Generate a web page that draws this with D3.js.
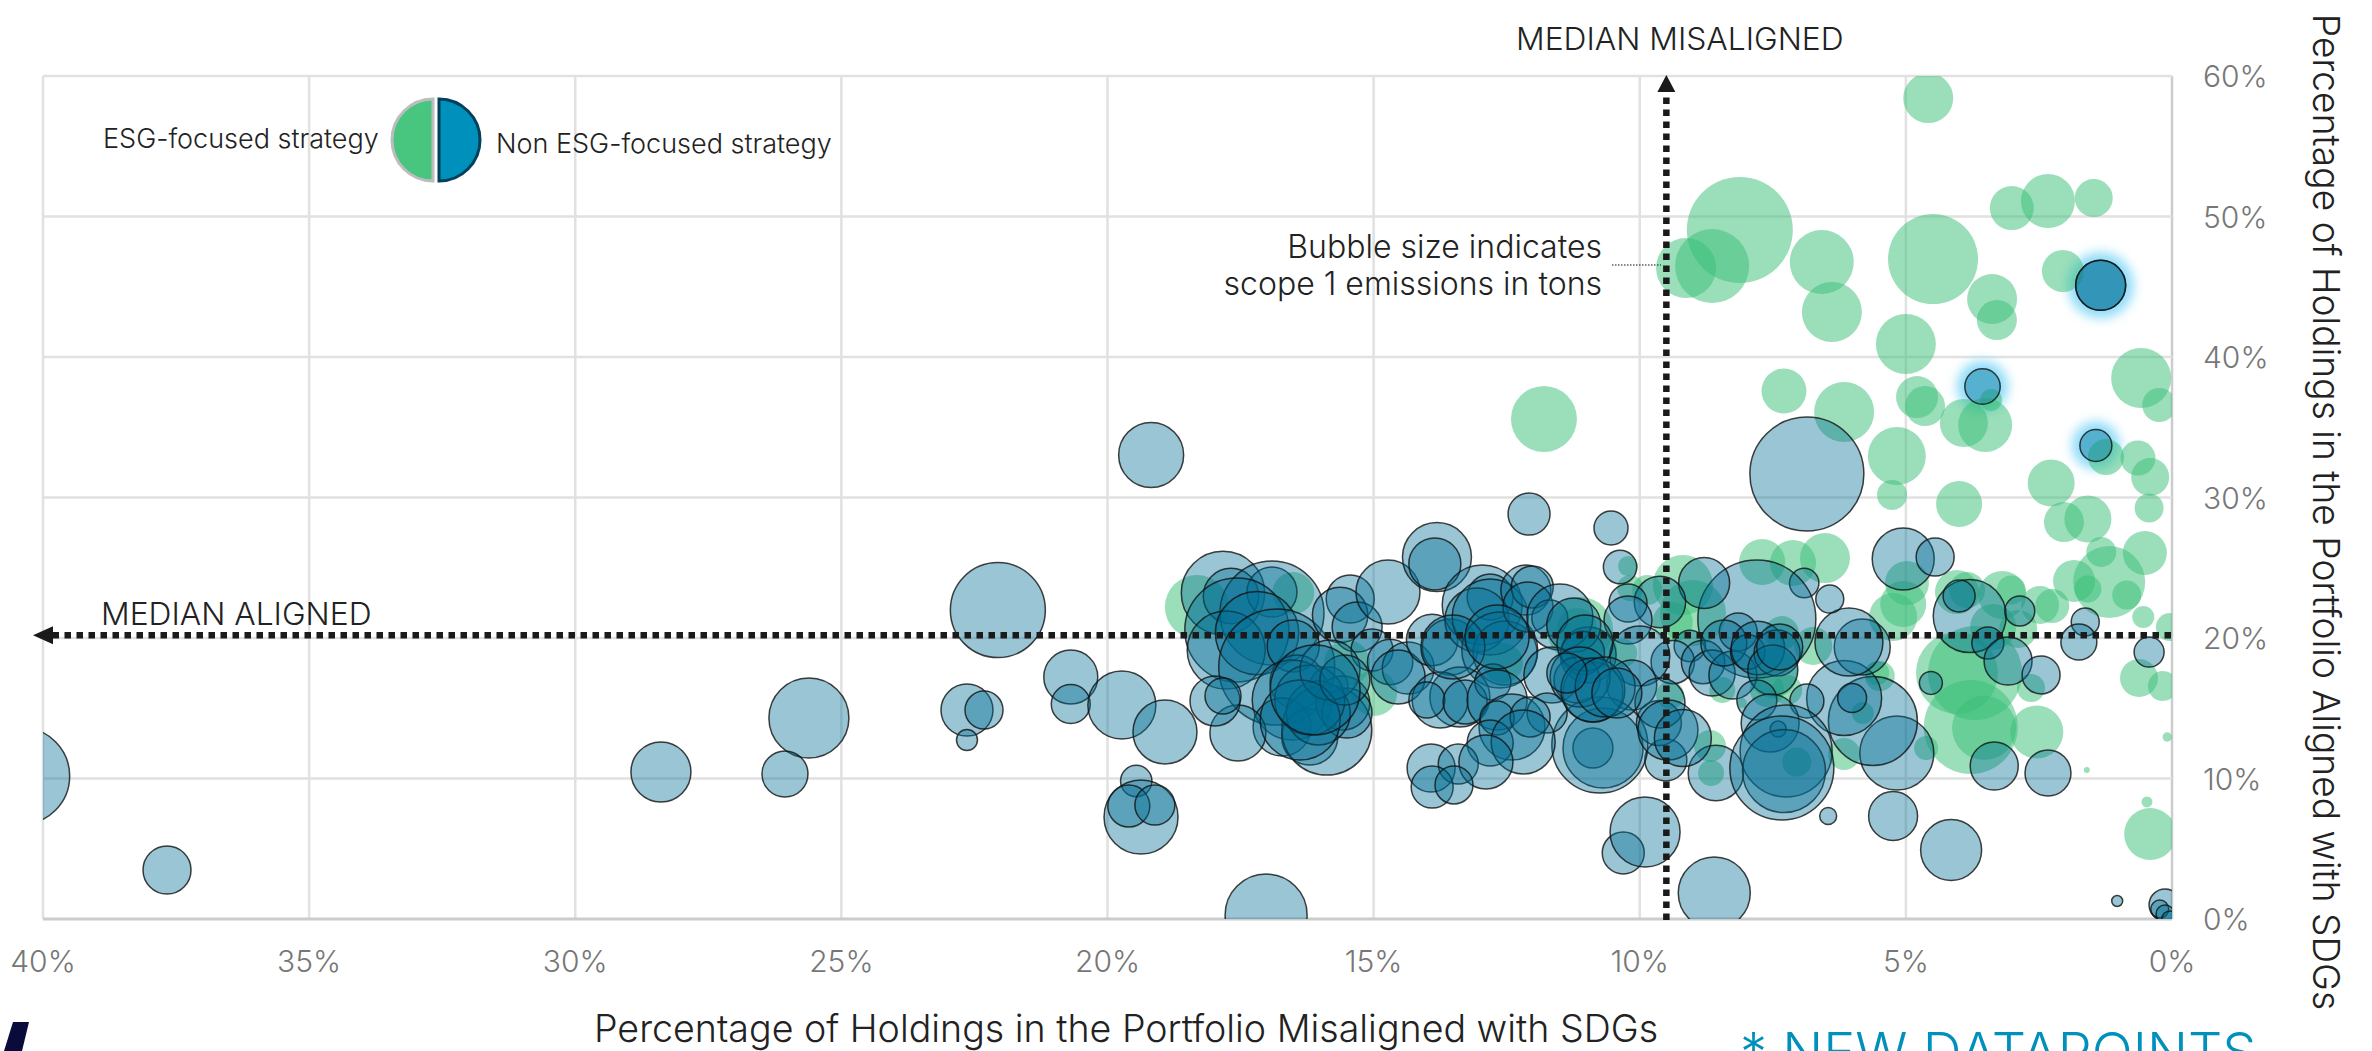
<!DOCTYPE html>
<html><head><meta charset="utf-8">
<script src="https://cdn.jsdelivr.net/npm/d3@7"></script>
<style>
html,body{margin:0;padding:0;background:#fff;overflow:hidden}
text{font-family:Inter,"Noto Sans",sans-serif;font-weight:300}
</style></head><body>
<svg id="c" width="2372" height="1051"></svg>
<script>
// Rows: [% misaligned, % aligned, scope 1 emissions (relative units)]
const esgPoints = [
[4.58,58.43,625],[8.12,49.04,2809],[9.13,46.33,900],[8.64,46.47,1369],[6.58,46.76,1024],[4.49,46.97,2025],
[6.39,43.2,900],[3.01,50.6,484],[2.33,51.1,729],[1.47,51.31,361],[2.05,46.12,441],[3.38,44.13,625],
[3.29,42.63,400],[5.0,40.92,900],[0.58,38.5,900],[0.24,36.58,289],[7.29,37.58,506],[6.16,36.08,900],
[4.79,37.15,441],[4.64,36.51,400],[3.91,35.3,576],[3.51,35.16,729],[3.40,36.94,121],[5.17,32.95,841],
[1.24,32.88,324],[0.64,32.81,306],[0.41,31.46,361],[2.27,31.03,552],[4.0,29.54,529],[5.26,30.18,225],
[11.8,35.59,1089],[2.03,28.25,400],[1.58,28.47,552],[0.43,29.25,210],[0.51,26.05,484],[1.33,26.12,225],
[1.18,23.98,1296],[1.84,24.06,441],[1.58,23.49,182],[0.85,23.06,210],[0.54,21.49,121],[0.04,20.78,196],
[2.48,22.35,361],[2.25,22.28,289],[3.19,23.06,576],[3.02,23.41,210],[4.04,23.27,484],[3.85,23.41,324],
[4.98,23.91,484],[5.05,22.42,529],[5.24,21.49,576],[3.36,20.78,529],[2.89,20.64,361],[4.04,17.51,1681],
[3.70,17.51,2209],[3.78,13.66,2209],[3.53,13.59,1024],[2.54,13.31,702],[2.65,16.44,196],[4.62,12.17,144],
[5.49,17.29,225],[5.81,14.66,121],[0.62,17.15,361],[0.17,16.58,225],[0.09,12.95,22],[1.6,10.6,9],
[0.47,8.33,30],[0.41,6.05,676],[9.19,23.77,900],[7.70,25.41,529],[7.12,25.34,529],[6.52,25.69,625],
[9.0,21.78,1089],[9.86,23.41,225],[10.18,23.56,169],[9.38,21.14,400],[6.74,19.43,361],[7.33,20.35,289],
[7.23,16.3,225],[7.5,17.51,625],[8.45,16.3,169],[8.68,12.31,256],[8.66,10.39,169],[7.05,11.17,210],
[6.16,11.74,256],[5.54,17.51,144],[9.43,15.94,196],[8.08,15.37,25],[7.61,16.3,289],[11.12,20.57,1089],
[10.31,18.93,196],[10.22,25.12,100],[18.32,22.21,1024],[16.51,23.2,441],[14.99,16.08,529],[15.5,18.22,529],
[12.57,18.22,400],[11.18,20.71,400],[10.8,19.14,400]
];
const nonEsgPoints = [
[22.06,21.99,2256],[25.61,14.31,1600],[26.06,10.32,529],[22.64,14.87,676],[22.32,14.87,361],[22.64,12.74,110],
[20.69,17.22,729],[20.69,15.3,380],[19.73,15.23,1156],[18.92,13.31,1024],[19.46,9.82,246],[19.18,33.02,1056],
[40.41,10.18,2352],[37.67,3.49,576],[28.39,10.46,900],[19.37,7.26,1369],[19.6,8.04,441],[19.11,8.11,400],
[17.02,0.28,1681],[8.6,1.85,1296],[10.31,4.7,441],[9.9,6.19,1225],[8.57,10.39,767],[9.51,11.32,441],
[6.46,7.33,72],[5.24,7.33,600],[4.15,4.91,930],[1.03,1.28,30],[0.13,1.0,256],[0.23,0.71,81],[0.13,0.36,81],[0.04,0,64],
[3.34,10.89,576],[2.33,10.39,529],[5.17,11.81,1369],[5.62,14.09,1980],[6.16,15.73,1406],[6.01,15.73,210],
[5.05,25.62,961],[4.45,25.76,361],[3.8,21.56,1332],[4.0,22.99,256],[2.86,21.92,225],[3.46,19.64,256],
[3.08,18.36,576],[2.46,17.37,361],[4.53,16.8,132],[1.63,21.14,196],[1.75,19.71,324],[0.43,19.0,225],
[5.82,19.36,784],[6.07,19.71,1156],[6.43,22.77,196],[6.91,23.91,216],[7.8,21.35,3481],[8.15,20.43,361],
[8.79,23.91,650],[9.62,22.56,660],[10.22,22.49,361],[10.22,21.28,576],[10.37,25.05,279],[10.97,18.79,784],
[9.06,19.43,246],[9.38,18.29,471],[10.0,18.72,900],[10.15,16.65,625],[8.81,18.29,471],[8.64,17.51,529],
[8.25,17.37,576],[8.42,19.64,529],[7.97,19.0,299],[7.78,19.29,713],[7.42,18.93,529],[7.5,17.72,625],
[7.37,19.36,529],[7.8,15.59,400],[6.86,15.52,289],[7.55,13.95,841],[7.4,13.52,64],[7.25,11.96,2116],
[7.29,10.53,1722],[7.33,10.75,2704],[10.88,12.17,400],[10.69,12.17,1600],[10.75,12.38,2304],[9.64,13.95,506],
[9.62,15.37,625],[9.47,13.45,900],[9.19,12.88,812],[17.83,23.2,1739],[17.68,22.99,767],[16.91,23.27,625],
[16.91,21.78,2704],[17.57,20.57,2704],[17.77,19.14,1521],[17.19,20.35,1739],[16.82,17.93,3364],[16.51,19.43,676],
[16.44,16.87,729],[15.84,16.58,361],[16.53,15.59,1600],[16.72,13.66,841],[16.2,12.95,784],[15.88,13.45,2025],
[15.58,15.37,729],[15.5,14.66,625],[16.04,14.66,1024],[17.55,13.24,784],[17.98,15.52,625],[17.83,15.87,324],
[15.44,22.77,576],[15.63,21.64,767],[15.31,20.78,625],[14.73,23.27,1024],[13.81,25.76,1190],[13.85,25.27,676],
[15.03,19.14,441],[14.69,18.29,515],[14.35,17.86,676],[14.54,17.22,729],[13.9,19.86,660],[13.56,19.36,784],
[12.96,22.35,1600],[12.81,22.92,529],[13.06,21.28,1024],[12.81,21.49,1444],[12.53,18.93,1024],[12.63,19.14,1444],
[12.14,23.41,625],[12.02,23.63,441],[12.1,22.21,625],[11.69,21.42,324],[11.5,21.49,1089],[11.24,20.92,729],
[11.07,18.93,471],[11.65,17.37,784],[10.88,16.16,900],[13.38,15.8,900],[13.75,15.59,784],
[14.0,15.59,324],[13.28,15.44,484],[12.76,16.87,324],[12.68,15.59,900],[12.4,13.66,1089],[12.68,14.31,289],
[11.74,14.66,400],[12.06,14.38,400],[12.81,12.53,529],[12.19,12.6,1024],[13.92,10.75,576],[13.41,11.03,400],
[12.89,11.17,729],[13.9,9.39,441],[13.49,9.54,361],[12.08,28.82,441],[10.54,27.83,289],[6.86,31.67,3249],
[11.03,19.64,784],[11.18,17.01,529],[11.12,17.22,900],[10.88,16.3,1024],
[10.65,16.51,900],[10.43,16.08,625],[11.37,17.51,400],
[16.2,15.59,1225],[15.82,17.72,900],[16.38,14.16,1600],[15.54,17.01,625],[16.1,16.3,2025],
[13.51,19.36,1024],[12.68,20.07,1024],[1.34,45.1,625]
];
const newPoints = [[1.34,45.1,625],[3.56,37.9,313],[1.43,33.7,256]];
const xTicks = [40,35,30,25,20,15,10,5,0];
const yTicks = [0,10,20,30,40,50,60];
const medianMisaligned = 9.5, medianAligned = 20.2;
const xTitle = "Percentage of Holdings in the Portfolio Misaligned with SDGs";
const yTitle = "Percentage of Holdings in the Portfolio Aligned with SDGs";

const L=43,R=2172,T=76,B=919;
const svg=d3.select("#c");
const x=d3.scaleLinear().domain([40,0]).range([L,R]);
const y=d3.scaleLinear().domain([0,60]).range([B,T]);
const rr=d3.scaleSqrt().domain([0,3600]).range([0,60]);

const defs=svg.append("defs");
defs.append("clipPath").attr("id","plot").append("rect").attr("x",L).attr("y",T).attr("width",R-L).attr("height",B-T);
const glow=defs.append("filter").attr("id","glow").attr("x","-60%").attr("y","-60%").attr("width","220%").attr("height","220%");
glow.append("feGaussianBlur").attr("stdDeviation",5.5);

// grid
const g=svg.append("g");
g.selectAll(".gx").data(xTicks).join("line").attr("x1",d=>x(d)).attr("x2",d=>x(d)).attr("y1",T).attr("y2",B)
 .attr("stroke",d=>d===0?"#cccccc":"#e1e1e1").attr("stroke-width",2.5);
g.selectAll(".gy").data(yTicks).join("line").attr("x1",L).attr("x2",R).attr("y1",d=>y(d)).attr("y2",d=>y(d))
 .attr("stroke",d=>d===0?"#cccccc":"#e1e1e1").attr("stroke-width",d=>d===0?3:2.5);

// glow under the new datapoints
svg.append("g").selectAll("circle").data(newPoints).join("circle").attr("cx",d=>x(d[0])).attr("cy",d=>y(d[1])).attr("r",d=>rr(d[2])+8)
 .attr("fill","#8fdcf8").attr("filter","url(#glow)");

// bubbles
const b=svg.append("g").attr("clip-path","url(#plot)");
b.selectAll(".e").data(esgPoints).join("circle").attr("cx",d=>x(d[0])).attr("cy",d=>y(d[1])).attr("r",d=>rr(d[2]))
 .attr("fill","#37BD75").attr("fill-opacity",.5);
b.selectAll(".n").data(nonEsgPoints.concat(newPoints)).join("circle").attr("cx",d=>x(d[0])).attr("cy",d=>y(d[1])).attr("r",d=>rr(d[2]))
 .attr("fill","#006F94").attr("fill-opacity",.4).attr("stroke","#111").attr("stroke-opacity",.8).attr("stroke-width",1.5);

// median lines
const ink="#1a1a1a";
svg.append("line").attr("x1",x(medianMisaligned)).attr("x2",x(medianMisaligned)).attr("y1",B+1).attr("y2",T+18)
 .attr("stroke",ink).attr("stroke-width",6.5).attr("stroke-dasharray","6.5 5.5");
svg.append("line").attr("x1",R-1).attr("x2",L+8).attr("y1",y(medianAligned)).attr("y2",y(medianAligned))
 .attr("stroke",ink).attr("stroke-width",6.5).attr("stroke-dasharray","6.5 5.5");
const mx=x(medianMisaligned), my=y(medianAligned);
svg.append("path").attr("fill",ink).attr("d",d3.line()([[mx-9,T+16],[mx+9,T+16],[mx,T-1]])+"Z");
svg.append("path").attr("fill",ink).attr("d",d3.line()([[L+10,my-9],[L+10,my+9],[L-10,my]])+"Z");

// tick labels
svg.selectAll(".xl").data(xTicks).join("text").attr("x",d=>x(d)).attr("y",972).attr("text-anchor","middle")
 .attr("font-size",30).attr("fill","#777").text(d=>d+"%");
svg.selectAll(".yl").data(yTicks).join("text").attr("x",2203).attr("y",d=>y(d)+11).attr("font-size",30).attr("fill","#777").text(d=>d+"%");

// axis titles
svg.append("text").attr("x",1126).attr("y",1042).attr("text-anchor","middle").attr("font-size",37.6).attr("fill","#222").text(xTitle);
svg.append("text").attr("transform","translate(2313,512) rotate(90)").attr("text-anchor","middle").attr("font-size",37.2).attr("fill","#222").text(yTitle);

// annotations
svg.append("text").attr("x",1516).attr("y",50).attr("font-size",31.8).attr("fill","#222").text("MEDIAN MISALIGNED");
svg.append("text").attr("x",101).attr("y",625).attr("font-size",31.8).attr("fill","#222").text("MEDIAN ALIGNED");
svg.append("text").attr("x",1602).attr("y",258).attr("text-anchor","end").attr("font-size",32).attr("fill","#222").text("Bubble size indicates");
svg.append("text").attr("x",1602).attr("y",295).attr("text-anchor","end").attr("font-size",32).attr("fill","#222").text("scope 1 emissions in tons");
svg.append("line").attr("x1",1612).attr("x2",1661).attr("y1",265).attr("y2",265).attr("stroke","#111").attr("stroke-width",1).attr("stroke-dasharray","1.5 1.5");

// legend
const lcx=436, lcy=140, lr=41;
const half=d3.arc().innerRadius(0).outerRadius(lr);
svg.append("path").attr("transform",`translate(${lcx-3},${lcy})`).attr("d",half({startAngle:Math.PI,endAngle:2*Math.PI}))
 .attr("fill","#48C57F").attr("stroke","#bdbdbd").attr("stroke-width",3);
svg.append("path").attr("transform",`translate(${lcx+3},${lcy})`).attr("d",half({startAngle:0,endAngle:Math.PI}))
 .attr("fill","#0090BC").attr("stroke","#03405a").attr("stroke-width",3);
svg.append("text").attr("x",103).attr("y",148).attr("font-size",27).attr("fill","#222").text("ESG-focused strategy");
svg.append("text").attr("x",496).attr("y",153).attr("font-size",27).attr("fill","#222").text("Non ESG-focused strategy");

// footer fragments
svg.append("text").attr("x",1740).attr("y",1071).attr("font-size",54).attr("fill","#0090BC").text("* NEW DATAPOINTS");
svg.append("path").attr("fill","#0b0b3b").attr("d","M13,1022L29,1022L22,1051L4,1051Z");
</script>
</body></html>
